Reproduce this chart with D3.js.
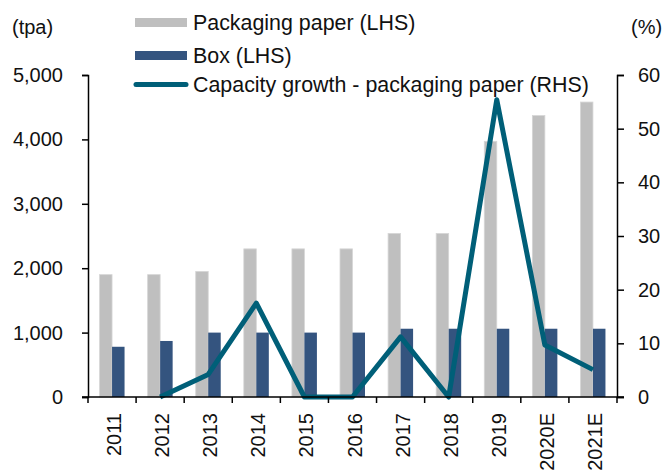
<!DOCTYPE html>
<html>
<head>
<meta charset="utf-8">
<script src="https://cdn.jsdelivr.net/npm/d3@7"></script>
<style>
  html, body { margin: 0; padding: 0; background: #fff; }
  svg { display: block; font-family: "Liberation Sans", Arial, sans-serif; }
</style>
</head>
<body>
<svg id="chart" width="665" height="471"></svg>
<script>
// Years on the category axis
const years = ["2011", "2012", "2013", "2014", "2015", "2016", "2017", "2018", "2019", "2020E", "2021E"];
// Packaging paper capacity, tpa (left axis)
const packagingPaper = [1900, 1900, 1950, 2300, 2300, 2300, 2540, 2540, 3970, 4370, 4580];
// Box capacity, tpa (left axis)
const box = [780, 870, 1000, 1000, 1000, 1000, 1060, 1060, 1060, 1060, 1060];
// Capacity growth of packaging paper, % (right axis); no value for the first year
const capacityGrowth = [null, 0, 4.2, 17.5, 0, 0, 11.2, 0, 55.4, 9.7, 5.1];
// Axis ticks
const leftTicks = [0, 1000, 2000, 3000, 4000, 5000];
const rightTicks = [0, 10, 20, 30, 40, 50, 60];
// Legend entries
const legendLabels = ["Packaging paper (LHS)", "Box (LHS)", "Capacity growth - packaging paper (RHS)"];

const colors = { paper: "#bfbfbf", box: "#34547f", line: "#005f78", axis: "#000", text: "#111" };
const tickFont = 20;
const legendFont = 21.4;

const svg = d3.select("#chart");
const m = { left: 88, right: 617, top: 75, bottom: 397 };

const x = d3.scaleBand().domain(years).range([m.left, m.right]).paddingInner(0).paddingOuter(0);
const yL = d3.scaleLinear().domain([0, 5000]).range([m.bottom, m.top]);
const yR = d3.scaleLinear().domain([0, 60]).range([m.bottom, m.top]);

const barW = 12.5;
const groupOffset = (x.bandwidth() - 2 * barW) / 2;

// Packaging paper bars
svg.append("g").selectAll("rect").data(years).join("rect")
  .attr("x", (d) => x(d) + groupOffset)
  .attr("y", (d, i) => yL(packagingPaper[i]))
  .attr("width", barW)
  .attr("height", (d, i) => yL(0) - yL(packagingPaper[i]))
  .attr("fill", colors.paper)
  .attr("stroke", "#d6d6d6")
  .attr("stroke-width", 0.8);

// Box bars
svg.append("g").selectAll("rect").data(years).join("rect")
  .attr("x", (d) => x(d) + groupOffset + barW)
  .attr("y", (d, i) => yL(box[i]))
  .attr("width", barW)
  .attr("height", (d, i) => yL(0) - yL(box[i]))
  .attr("fill", colors.box);

// Growth line
const line = d3.line()
  .defined((d) => d.v !== null)
  .x((d) => x(d.year) + x.bandwidth() / 2)
  .y((d) => yR(d.v));

svg.append("path")
  .datum(years.map((year, i) => ({ year, v: capacityGrowth[i] })))
  .attr("d", line)
  .attr("fill", "none")
  .attr("stroke", colors.line)
  .attr("stroke-width", 5)
  .attr("stroke-linejoin", "round");

// Left axis
const leftAxis = d3.axisLeft(yL).tickValues(leftTicks).tickFormat(d3.format(",")).tickSizeOuter(0).tickSize(6).tickPadding(19);
const gL = svg.append("g").attr("transform", `translate(${m.left},0)`).call(leftAxis);

// Right axis
const rightAxis = d3.axisRight(yR).tickValues(rightTicks).tickSizeOuter(0).tickSize(7).tickPadding(14);
const gR = svg.append("g").attr("transform", `translate(${m.right},0)`).call(rightAxis);

// Bottom axis: ticks at category boundaries
const gB = svg.append("g").attr("transform", `translate(0,${m.bottom})`);
gB.append("line").attr("x1", m.left - 6).attr("x2", m.right + 7).attr("stroke", colors.axis).attr("stroke-width", 1.5);
const boundaries = years.map((d) => x(d)).concat([x(years[years.length - 1]) + x.bandwidth()]);
gB.selectAll("line.tick").data(boundaries).join("line")
  .attr("class", "tick")
  .attr("x1", (d) => d).attr("x2", (d) => d)
  .attr("y1", 0).attr("y2", 6)
  .attr("stroke", colors.axis).attr("stroke-width", 1.5);
gB.selectAll("text").data(years).join("text")
  .attr("transform", (d) => `translate(${x(d) + x.bandwidth() / 2 + 9},16) rotate(-90)`)
  .attr("text-anchor", "end")
  .attr("fill", colors.text)
  .attr("font-size", tickFont)
  .text((d) => d);

[gL, gR].forEach((g) => {
  g.selectAll(".domain").attr("stroke", colors.axis).attr("stroke-width", 1.5);
  g.selectAll(".tick line").attr("stroke", colors.axis).attr("stroke-width", 1.5);
  g.selectAll(".tick text").attr("fill", colors.text).attr("font-size", tickFont).attr("font-family", "Liberation Sans, Arial, sans-serif");
});

// Axis unit labels
svg.append("text").attr("x", 12).attr("y", 34).attr("font-size", tickFont).attr("fill", colors.text).text("(tpa)");
svg.append("text").attr("x", 631).attr("y", 34).attr("font-size", tickFont).attr("fill", colors.text).text("(%)");

// Legend
const legend = svg.append("g");
const rowY = [22.5, 55.5, 84.5];
legend.append("rect").attr("x", 135).attr("y", rowY[0] - 4.5).attr("width", 52).attr("height", 9).attr("fill", colors.paper);
legend.append("rect").attr("x", 135).attr("y", rowY[1] - 4.5).attr("width", 52).attr("height", 9).attr("fill", colors.box);
legend.append("line").attr("x1", 136).attr("x2", 186).attr("y1", rowY[2]).attr("y2", rowY[2])
  .attr("stroke", colors.line).attr("stroke-width", 5).attr("stroke-linecap", "round");
legend.selectAll("text").data(legendLabels).join("text")
  .attr("x", 193)
  .attr("y", (d, i) => rowY[i])
  .attr("dy", "0.35em")
  .attr("font-size", legendFont)
  .attr("fill", colors.text)
  .text((d) => d);
</script>
</body>
</html>
